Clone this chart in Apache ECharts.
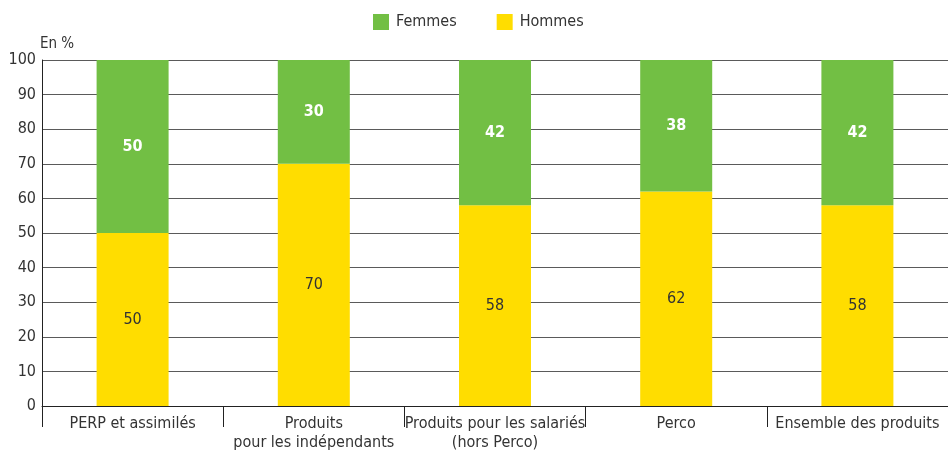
<!DOCTYPE html>
<html>
<head>
<meta charset="utf-8">
<script src="https://cdn.jsdelivr.net/npm/echarts@6/dist/echarts.min.js"></script>
<style>
  html, body { margin: 0; padding: 0; background: #fff; }
  #main { width: 948px; height: 452px; }
</style>
</head>
<body>
<div id="main"></div>
<script>
// données
const categories = ['PERP et assimilés', 'Produits\npour les indépendants', 'Produits pour les salariés\n(hors Perco)', 'Perco', 'Ensemble des produits'];
const hommes = [50, 70, 58, 62, 58];
const femmes = [50, 30, 42, 38, 42];

const font = "'Liberation Sans Narrow', 'DejaVu Sans Condensed', sans-serif";

const chart = echarts.init(document.getElementById('main'));
chart.setOption({
    animation: false,
    textStyle: { fontFamily: font },
    legend: {
        top: 9,
        left: 368,
        icon: 'rect',
        itemWidth: 16,
        itemHeight: 16,
        itemGap: 40,
        textStyle: { fontSize: 16, color: '#333', fontFamily: font, padding: [0, 0, 0, 2] },
        data: ['Femmes', 'Hommes']
    },
    grid: { left: 42, right: 0, top: 60, bottom: 46, containLabel: false },
    xAxis: {
        type: 'category',
        data: categories,
        axisLine: { lineStyle: { color: '#222', width: 1 } },
        axisTick: { show: true, length: 21, lineStyle: { color: '#222' } },
        axisLabel: { color: '#333', fontSize: 16, margin: 8, lineHeight: 19, interval: 0, fontFamily: font }
    },
    yAxis: {
        type: 'value',
        min: 0,
        max: 100,
        interval: 10,
        name: 'En %',
        nameLocation: 'end',
        nameGap: 7,
        nameTextStyle: { color: '#333', fontSize: 15, align: 'left', padding: [0, 0, 0, -2], fontFamily: font },
        axisLine: { show: true, lineStyle: { color: '#222' } },
        axisTick: { show: false },
        axisLabel: { color: '#333', fontSize: 16, margin: 6, fontFamily: font },
        splitLine: { lineStyle: { color: '#5a5a5a', width: 1 } }
    },
    series: [
        {
            name: 'Hommes',
            type: 'bar',
            stack: 'total',
            barWidth: 72,
            data: hommes,
            itemStyle: { color: '#FFDD00' },
            label: { show: true, position: 'inside', color: '#333', fontSize: 16, fontFamily: font }
        },
        {
            name: 'Femmes',
            type: 'bar',
            stack: 'total',
            barWidth: 72,
            data: femmes,
            itemStyle: { color: '#72BF44' },
            label: { show: true, position: 'inside', color: '#fff', fontSize: 16, fontWeight: 'bold', fontFamily: font }
        }
    ]
});
</script>
</body>
</html>
